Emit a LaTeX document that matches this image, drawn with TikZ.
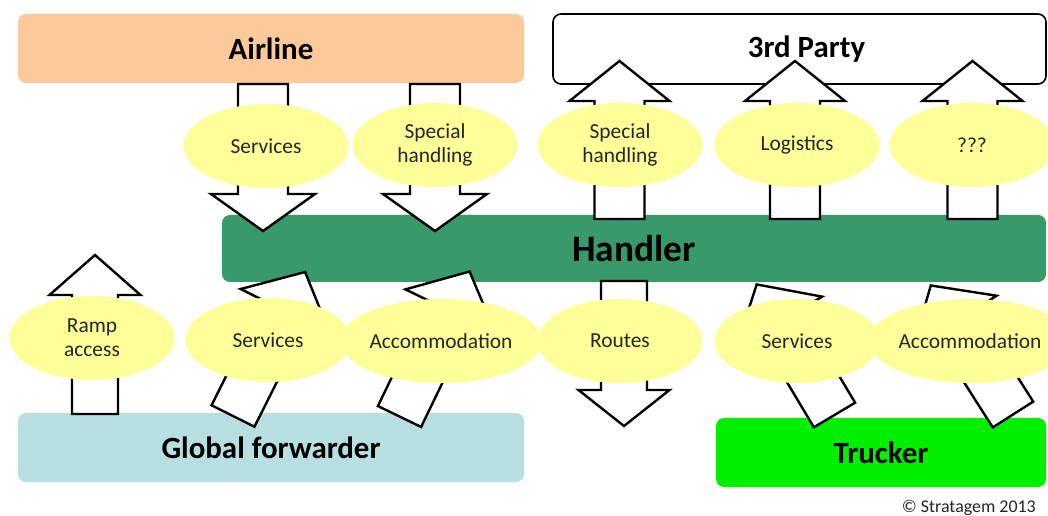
\documentclass[tikz,border=0pt]{standalone}
\usepackage{fontspec}
\setmainfont{Carlito}
\usetikzlibrary{shapes.geometric}
\definecolor{airlinec}{RGB}{252,201,154}
\definecolor{handlerc}{RGB}{56,153,106}
\definecolor{fwdc}{RGB}{183,222,225}
\definecolor{truckerc}{RGB}{0,240,0}
\definecolor{ellc}{RGB}{255,255,153}
\tikzset{
  box/.style={rounded corners=8bp, inner sep=0pt, font=\fontsize{31}{35}\selectfont\bfseries},
  oval/.style={ellipse, fill=ellc, minimum width=165bp, minimum height=84bp, inner sep=0pt, align=center, font=\fontsize{21.5}{24}\selectfont, text=black!85},
  blkarr/.style={draw=black, fill=white, line width=2.4bp, line join=miter},
}
% #1,#2 base point; #3 rotation; #4 length; #5 shaft half width; #6 head half width; #7 head length
\newcommand\blkarrow[7]{%
  \draw[blkarr,shift={(#1,#2)},rotate=#3]
    (-#5,0) -- (-#5,-#4+#7) -- (-#6,-#4+#7) -- (0,-#4) -- (#6,-#4+#7) -- (#5,-#4+#7) -- (#5,0) -- cycle;}
\begin{document}
\begin{tikzpicture}[x=1bp,y=-1bp]
\useasboundingbox (0,0) rectangle (1048,516);
\fill[white] (0,0) rectangle (1048,516);
% boxes
\node[box, fill=airlinec, minimum width=506bp, minimum height=69bp] (airline) at (271,48.5) {Airline};
\node[box, draw=black, line width=1.6bp, fill=white, minimum width=493bp, minimum height=70bp] (third) at (799.5,49) {};
\node[font=\fontsize{31}{35}\selectfont\bfseries, inner sep=0pt] (thirdlbl) at ([xshift=7bp]third.center) {3rd Party};
\node[box, fill=handlerc, minimum width=824bp, minimum height=67bp, font=\fontsize{37.5}{40}\selectfont\bfseries] (handler) at (634,248.5) {Handler};
\node[box, fill=fwdc, minimum width=506bp, minimum height=69bp] (fwd) at (271,447.5) {Global forwarder};
\node[box, fill=truckerc, minimum width=330bp, minimum height=69bp] (trucker) at (881,452.5) {Trucker};
% block arrows
\blkarrow{263}{84}{180}{147}{25}{52}{37}
\blkarrow{435}{84}{180}{147}{25}{52}{37}
\blkarrow{619.5}{219}{0}{158}{25}{50}{40}
\blkarrow{795}{219}{0}{158}{25}{50}{40}
\blkarrow{972.5}{219}{0}{158}{25}{50}{40}
\blkarrow{95}{414}{0}{159}{23}{45.5}{40}
\blkarrow{624}{281}{180}{145}{23}{45.5}{36}
\blkarrow{233}{416}{-26.6}{161}{24}{50}{44}
\blkarrow{399.5}{416.5}{-25.8}{161}{24}{50}{44}
\blkarrow{834.5}{415}{30.8}{152}{24}{50}{44}
\blkarrow{1013}{414.5}{32.5}{153}{24}{50}{44}
% ellipses
\node[oval] (e1) at (266,146) {Services};
\node[oval] (e2) at (435,145) {Special\\handling};
\node[oval] (e3) at (620,145) {Special\\handling};
\node[oval] (e4) at (797,145) {Logistics};
\node[oval] (e5) at (972,145) {???};
\node[oval] (b1) at (92,338) {Ramp\\access};
\node[oval] (b2) at (268,340) {Services};
\node[oval] (b3) at (441,341) {Accommodation};
\node[oval] (b4) at (620,341) {Routes};
\node[oval] (b5) at (797,341) {Services};
\node[oval] (b6) at (970,341) {Accommodation};
% copyright
\node[anchor=base east, inner sep=0pt, font=\fontsize{18}{20}\selectfont, text=black!85] (copy) at (1036,512) {© Stratagem 2013};
\end{tikzpicture}
\end{document}
